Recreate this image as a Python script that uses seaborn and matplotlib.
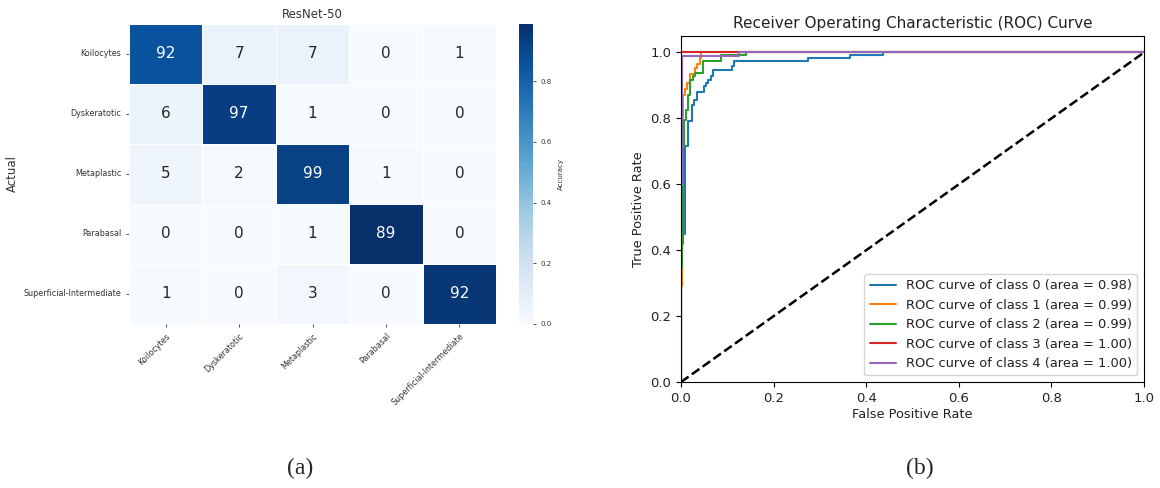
import numpy as np
import pandas as pd
import matplotlib
matplotlib.use("Agg")
import matplotlib.pyplot as plt
import seaborn as sns

# ---------------- data ----------------
classes = ["Koilocytes", "Dyskeratotic", "Metaplastic", "Parabasal", "Superficial-Intermediate"]
row_koilocytes = [92, 7, 7, 0, 1]
row_dyskeratotic = [6, 97, 1, 0, 0]
row_metaplastic = [5, 2, 99, 1, 0]
row_parabasal = [0, 0, 1, 89, 0]
row_superficial = [1, 0, 3, 0, 92]

fpr0 = [0, 0, 0.009, 0.009, 0.016, 0.016, 0.023, 0.023, 0.028, 0.028, 0.034, 0.034, 0.049, 0.049, 0.054, 0.054,
        0.059, 0.059, 0.064, 0.064, 0.070, 0.070, 0.110, 0.110, 0.115, 0.115, 0.275, 0.275, 0.365, 0.365, 0.436, 0.436, 1.0]
tpr0 = [0, 0.45, 0.45, 0.715, 0.715, 0.791, 0.791, 0.842, 0.842, 0.857, 0.857, 0.879, 0.879, 0.898, 0.898, 0.908,
        0.908, 0.918, 0.918, 0.928, 0.928, 0.946, 0.946, 0.960, 0.960, 0.973, 0.973, 0.982, 0.982, 0.991, 0.991, 1.0, 1.0]
fpr1 = [0, 0, 0.002, 0.002, 0.005, 0.005, 0.008, 0.008, 0.012, 0.012, 0.019, 0.019, 0.031, 0.031, 0.034, 0.034,
        0.040, 0.040, 0.043, 0.043, 1.0]
tpr1 = [0, 0.29, 0.29, 0.80, 0.80, 0.87, 0.87, 0.889, 0.889, 0.907, 0.907, 0.935, 0.935, 0.952, 0.952, 0.965,
        0.965, 0.983, 0.983, 1.0, 1.0]
fpr2 = [0, 0, 0.002, 0.002, 0.005, 0.005, 0.007, 0.007, 0.011, 0.011, 0.015, 0.015, 0.019, 0.019, 0.026, 0.026,
        0.031, 0.031, 0.048, 0.048, 0.086, 0.086, 0.140, 0.140, 1.0]
tpr2 = [0, 0.35, 0.35, 0.42, 0.42, 0.715, 0.715, 0.796, 0.796, 0.826, 0.826, 0.872, 0.872, 0.917, 0.917, 0.929,
        0.929, 0.937, 0.937, 0.974, 0.974, 0.991, 0.991, 1.0, 1.0]
fpr3 = [0, 0, 1.0]
tpr3 = [0, 1.0, 1.0]
fpr4 = [0, 0, 0.003, 0.003, 0.125, 0.125, 1.0]
tpr4 = [0, 0.6, 0.6, 0.99, 0.99, 1.0, 1.0]
auc_values = [0.98, 0.99, 0.99, 1.00, 1.00]
roc_colors = ["#1f77b4", "#ff7f0e", "#2ca02c", "#d62728", "#9467bd"]

# ---------------- figure ----------------
sns.set_theme(style="white")
plt.rcParams["font.family"] = ["DejaVu Sans"]

fig = plt.figure(figsize=(11.6, 4.88), dpi=100)

counts = np.array([row_koilocytes, row_dyskeratotic, row_metaplastic, row_parabasal, row_superficial])
norm = counts / counts.sum(axis=1, keepdims=True)
df_norm = pd.DataFrame(norm, index=classes, columns=classes)

ax1 = fig.add_axes([0.1112, 0.3361, 0.3164, 0.6148])
cax = fig.add_axes([0.4474, 0.3361, 0.0121, 0.6148])
sns.heatmap(df_norm, annot=counts, fmt="d", cmap="Blues", ax=ax1, cbar_ax=cax,
            linewidths=0.5, linecolor="white", annot_kws={"size": 11},
            cbar_kws={"label": "Accuracy"})
ax1.set_title("ResNet-50", fontsize=8.5, color="#333333", pad=4)
ax1.set_ylabel("Actual", fontsize=8.5, color="#333333")
ax1.yaxis.set_label_coords(-0.30, 0.5)
ax1.set_xlabel("")
ax1.tick_params(axis="both", labelsize=5.8, length=2, width=0.6, colors="#333333", left=True, bottom=True)
plt.setp(ax1.get_xticklabels(), rotation=45, ha="right", rotation_mode="anchor")
plt.setp(ax1.get_yticklabels(), rotation=0)
cax.tick_params(labelsize=5, length=2, width=0.6, colors="#333333", right=True)
cax.yaxis.label.set_size(5)
cax.yaxis.label.set_color("#333333")
cax.set_yticks([0.0, 0.2, 0.4, 0.6, 0.8])

# ROC panel
ax2 = fig.add_axes([0.5871, 0.2172, 0.3991, 0.7090])
roc_fprs = [fpr0, fpr1, fpr2, fpr3, fpr4]
roc_tprs = [tpr0, tpr1, tpr2, tpr3, tpr4]
for i in range(5):
    sns.lineplot(x=roc_fprs[i], y=roc_tprs[i], sort=False, estimator=None, ax=ax2,
                 color=roc_colors[i], lw=1.5,
                 label=f"ROC curve of class {i} (area = {auc_values[i]:.2f})")
sns.lineplot(x=[0, 1], y=[0, 1], ax=ax2, color="black", lw=1.8, linestyle="--", sort=False, estimator=None)
ax2.set_xlim(0.0, 1.0)
ax2.set_ylim(0.0, 1.05)
for s in ax2.spines.values():
    s.set_color("black")
    s.set_linewidth(0.8)
ax2.tick_params(axis="both", labelsize=9.5, length=3.5, width=0.8, colors="black", left=True, bottom=True)
ax2.set_xticks([0, 0.2, 0.4, 0.6, 0.8, 1.0])
ax2.set_xticklabels(["0.0", "0.2", "0.4", "0.6", "0.8", "1.0"])
ax2.set_yticks([0, 0.2, 0.4, 0.6, 0.8, 1.0])
ax2.set_yticklabels(["0.0", "0.2", "0.4", "0.6", "0.8", "1.0"])
for lab in ax2.get_xticklabels() + ax2.get_yticklabels():
    lab.set_color("#222222")
ax2.set_xlabel("False Positive Rate", fontsize=9.3, color="#222222", labelpad=2)
ax2.set_ylabel("True Positive Rate", fontsize=9.3, color="#222222")
ax2.set_title("Receiver Operating Characteristic (ROC) Curve", fontsize=11, color="#222222", pad=6)
leg = ax2.legend(loc="lower right", fontsize=9.4, frameon=True, fancybox=True, handlelength=2)
for t in leg.get_texts():
    t.set_color("#222222")

fig.text(300 / 1160, 1 - 468 / 488, "(a)", family="Liberation Serif", fontsize=17, ha="center", va="center")
fig.text(920 / 1160, 1 - 468 / 488, "(b)", family="Liberation Serif", fontsize=17, ha="center", va="center")

fig.savefig("out.png", dpi=100)
